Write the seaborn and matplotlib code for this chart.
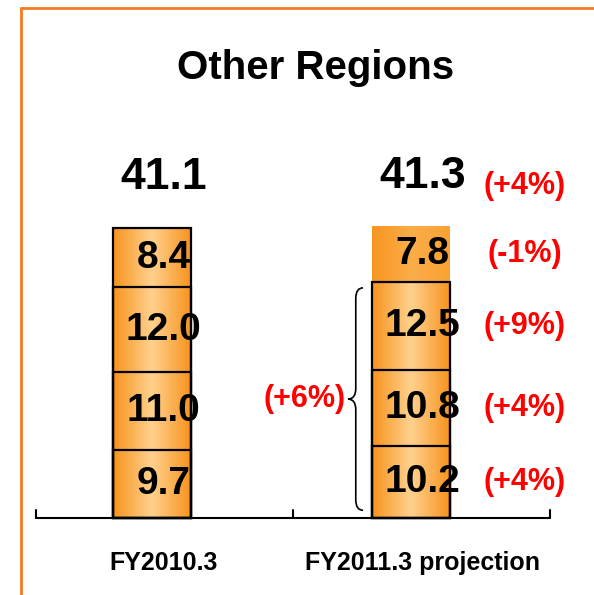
import numpy as np
import pandas as pd
import matplotlib
matplotlib.use("Agg")
import matplotlib.pyplot as plt
import seaborn as sns
from matplotlib.colors import LinearSegmentedColormap
from matplotlib.path import Path
from matplotlib.patches import PathPatch
from matplotlib.lines import Line2D

categories = ["FY2010.3", "FY2011.3 projection"]
# stacked segments, bottom to top
seg_1 = [9.7, 10.2]
seg_2 = [11.0, 10.8]
seg_3 = [12.0, 12.5]
seg_4 = [8.4, 7.8]
totals = [41.1, 41.3]
# changes shown next to the projection column, bottom to top
seg_change = ["(+4%)", "(+4%)", "(+9%)", "(-1%)"]
total_change = "(+4%)"
group_change = "(+6%)"
title = "Other Regions"

sns.set_style("white")
plt.rcParams["font.family"] = ["Liberation Sans", "DejaVu Sans"]
plt.rcParams["text.color"] = "black"

segments = np.array([seg_1, seg_2, seg_3, seg_4])
cum = segments.cumsum(axis=0)
df = pd.DataFrame(cum.T, columns=["s1", "s2", "s3", "s4"])
df["category"] = categories

fig = plt.figure(figsize=(5.94, 5.95), dpi=100)
ax = fig.add_axes([0, 0, 1, 1])

edge_c = "#F7931E"
mid_c = "#FFD18E"
cmap = LinearSegmentedColormap.from_list("bar", [edge_c, mid_c, edge_c])
cmap_top = LinearSegmentedColormap.from_list("top", ["#F8951F", "#FBAD4A", "#F9A233"])
grad = np.linspace(0, 1, 256).reshape(1, -1)

bar_w = 0.3
# draw tallest cumulative bar first, lower segments go over it
for level in range(3, -1, -1):
    n_before = len(ax.patches)
    sns.barplot(data=df, x="category", y=f"s{level + 1}", width=bar_w,
                color=edge_c, ax=ax)
    for j, patch in enumerate(ax.patches[n_before:]):
        x0 = patch.get_x()
        w = patch.get_width()
        top = patch.get_height()
        low = cum[level - 1][j] if level > 0 else 0
        is_top_proj = (level == 3 and j == 1)
        ax.imshow(grad, extent=(x0, x0 + w, low, top), aspect="auto",
                  cmap=cmap_top if is_top_proj else cmap, zorder=2)
        patch.set_facecolor("none")
        patch.set_edgecolor("none" if is_top_proj else "black")
        patch.set_linewidth(1.6)
        patch.set_zorder(5)

# segment values
txt_dx = 0.045
for level in range(4):
    for j in range(2):
        low = cum[level - 1][j] if level > 0 else 0
        ax.text(j + txt_dx, low + segments[level][j] / 2, f"{segments[level][j]:.1f}",
                ha="center", va="center", fontsize=28, fontweight="bold", zorder=6)

# totals
for j in range(2):
    ax.text(j + txt_dx, totals[j] + 5.5, f"{totals[j]:.1f}", ha="center",
            va="baseline", fontsize=32, fontweight="bold")

# red change labels beside the projection column
red = "#FF0000"
for level in range(4):
    low = cum[level - 1][1] if level > 0 else 0
    ax.text(1.44, low + segments[level][1] / 2, seg_change[level], ha="center",
            va="center", fontsize=22, fontweight="bold", color=red)
ax.text(1.44, totals[1] + 5.7, total_change, ha="center", va="center",
        fontsize=22, fontweight="bold", color=red)

# brace over the first three segments of the projection
xe, xs, xp = 1 - 0.185, 1 - 0.213, 1 - 0.243
yb, yt = 1.1, 32.6
ym = (yb + yt) / 2
r = 1.5
verts = [(xe, yt), (xs, yt), (xs, yt - r), (xs, ym + r), (xs, ym), (xp, ym),
         (xs, ym), (xs, ym - r), (xs, yb + r), (xs, yb), (xe, yb)]
codes = [Path.MOVETO, Path.CURVE3, Path.CURVE3, Path.LINETO, Path.CURVE3, Path.CURVE3,
         Path.CURVE3, Path.CURVE3, Path.LINETO, Path.CURVE3, Path.CURVE3]
ax.add_patch(PathPatch(Path(verts, codes), facecolor="none", edgecolor="black", lw=1.2))
ax.text(xp - 0.01, ym, group_change, ha="right", va="center", fontsize=22,
        fontweight="bold", color=red)

# baseline with separators
tick_x = [-0.448, 0.545, 1.537]
ax.plot([tick_x[0], tick_x[-1]], [0, 0], color="black", lw=1.5, zorder=7)
for tx in tick_x:
    ax.plot([tx, tx], [0, 1.15], color="black", lw=1.5, zorder=7)

# category labels
for j, cat in enumerate(categories):
    ax.text(j + txt_dx, -6.4, cat, ha="center", va="center", fontsize=18,
            fontweight="bold")

ax.set_xlim(-0.587, 1.707)
ax.set_ylim(-10.9, 73.37)
ax.axis("off")

fig.text(0.532, 1 - 68 / 595, title, ha="center", va="center", fontsize=29,
         fontweight="bold")

# orange frame on the left and top
orange = "#F47B20"
fig.add_artist(Line2D([0.0354, 0.0354], [0, 0.9866], color=orange, lw=2))
fig.add_artist(Line2D([0.0354, 1.0], [0.9866, 0.9866], color=orange, lw=2))

fig.savefig("out.png", dpi=100)
